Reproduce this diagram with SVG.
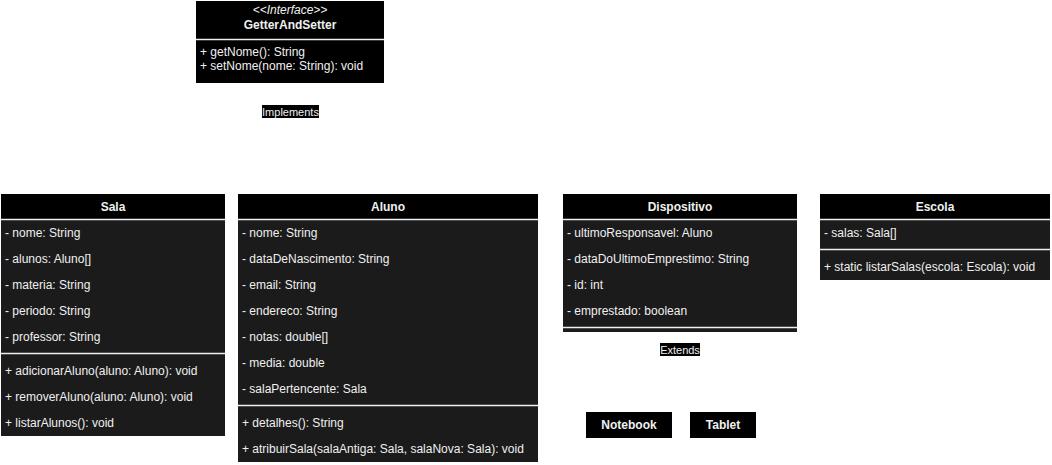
<svg xmlns="http://www.w3.org/2000/svg" width="1052" height="465" viewBox="0 0 1052 465">
<style>
text{font-family:"Liberation Sans",Arial,sans-serif;font-size:12px;fill:#f0f0f0}
.h{fill:#000}
.b{fill:#1b1b1b}
.t{font-weight:bold;text-anchor:middle}
.sep{stroke:#f0f0f0;stroke-width:1.5}
.lbl{font-size:11px;text-anchor:middle}
</style>
<rect width="1052" height="465" fill="#fff"/>
<g id="GetterAndSetter">
<rect class="h" x="196" y="1" width="188" height="82"/>
<line class="sep" x1="196" y1="39.5" x2="384" y2="39.5"/>
<text x="290" y="14" text-anchor="middle" font-style="italic" font-size="11">&lt;&lt;Interface&gt;&gt;</text>
<text class="t" x="290" y="29">GetterAndSetter</text>
<text x="200" y="56">+ getNome(): String</text>
<text x="200" y="70">+ setNome(nome: String): void</text>
</g>
<g id="connectors">
<g id="implements">
<rect x="262" y="105" width="57" height="13" fill="#000"/>
<text class="lbl" x="290.5" y="115.5">Implements</text>
</g>
<g id="extends">
<rect x="660" y="343" width="40" height="13" fill="#000"/>
<text class="lbl" x="680" y="353.5">Extends</text>
</g>
</g>
<g id="Sala">
<rect class="h" x="1" y="194" width="224" height="26"/>
<rect class="b" x="1" y="220" width="224" height="216"/>
<line class="sep" x1="1" y1="219.5" x2="225" y2="219.5"/>
<line class="sep" x1="1" y1="353.5" x2="225" y2="353.5"/>
<text class="t" x="113" y="211">Sala</text>
<text x="5" y="237">- nome: String</text>
<text x="5" y="263">- alunos: Aluno[]</text>
<text x="5" y="289">- materia: String</text>
<text x="5" y="315">- periodo: String</text>
<text x="5" y="341">- professor: String</text>
<text x="5" y="375">+ adicionarAluno(aluno: Aluno): void</text>
<text x="5" y="401">+ removerAluno(aluno: Aluno): void</text>
<text x="5" y="427">+ listarAlunos(): void</text>
</g>
<g id="Aluno">
<rect class="h" x="238" y="194" width="300" height="26"/>
<rect class="b" x="238" y="220" width="300" height="242"/>
<line class="sep" x1="238" y1="219.5" x2="538" y2="219.5"/>
<line class="sep" x1="238" y1="405.5" x2="538" y2="405.5"/>
<text class="t" x="388" y="211">Aluno</text>
<text x="242" y="237">- nome: String</text>
<text x="242" y="263">- dataDeNascimento: String</text>
<text x="242" y="289">- email: String</text>
<text x="242" y="315">- endereco: String</text>
<text x="242" y="341">- notas: double[]</text>
<text x="242" y="367">- media: double</text>
<text x="242" y="393">- salaPertencente: Sala</text>
<text x="242" y="427">+ detalhes(): String</text>
<text x="242" y="453">+ atribuirSala(salaAntiga: Sala, salaNova: Sala): void</text>
</g>
<g id="Dispositivo">
<rect class="h" x="563" y="194" width="234" height="26"/>
<rect class="b" x="563" y="220" width="234" height="112"/>
<line class="sep" x1="563" y1="219.5" x2="797" y2="219.5"/>
<line class="sep" x1="563" y1="327.5" x2="797" y2="327.5"/>
<text class="t" x="680" y="211">Dispositivo</text>
<text x="567" y="237">- ultimoResponsavel: Aluno</text>
<text x="567" y="263">- dataDoUltimoEmprestimo: String</text>
<text x="567" y="289">- id: int</text>
<text x="567" y="315">- emprestado: boolean</text>
</g>
<g id="Escola">
<rect class="h" x="820" y="194" width="230" height="26"/>
<rect class="b" x="820" y="220" width="230" height="60"/>
<line class="sep" x1="820" y1="219.5" x2="1050" y2="219.5"/>
<line class="sep" x1="820" y1="249.5" x2="1050" y2="249.5"/>
<text class="t" x="935" y="211">Escola</text>
<text x="824" y="237">- salas: Sala[]</text>
<text x="824" y="271">+ static listarSalas(escola: Escola): void</text>
</g>
<g id="Notebook">
<rect class="h" x="586" y="412" width="86" height="26"/>
<text class="t" x="629" y="429">Notebook</text>
</g>
<g id="Tablet">
<rect class="h" x="690" y="412" width="66" height="26"/>
<text class="t" x="723" y="429">Tablet</text>
</g>
</svg>
